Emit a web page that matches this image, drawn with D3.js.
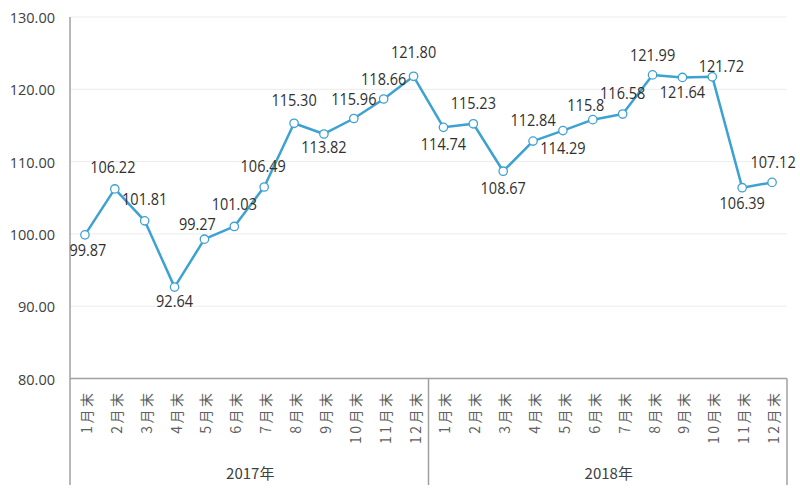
<!DOCTYPE html>
<html>
<head>
<meta charset="utf-8">
<script src="https://cdn.jsdelivr.net/npm/d3@7"></script>
<style>
  html, body { margin: 0; padding: 0; background: #fff; }
  svg { display: block; }
</style>
</head>
<body>
<svg id="chart" width="800" height="500"></svg>
<script>
// ---- data ----
const years = ["2017年", "2018年"];
const months = ["1月末","2月末","3月末","4月末","5月末","6月末","7月末","8月末","9月末","10月末","11月末","12月末"];
const values = [99.87, 106.22, 101.81, 92.64, 99.27, 101.03, 106.49, 115.30, 113.82, 115.96, 118.66, 121.80,
                114.74, 115.23, 108.67, 112.84, 114.29, 115.8, 116.58, 121.99, 121.64, 121.72, 106.39, 107.12];
const valueLabels = ["99.87","106.22","101.81","92.64","99.27","101.03","106.49","115.30","113.82","115.96","118.66","121.80",
                     "114.74","115.23","108.67","112.84","114.29","115.8","116.58","121.99","121.64","121.72","106.39","107.12"];
const yTicks = [80, 90, 100, 110, 120, 130];
// label placement (baseline offset from the point, horizontal nudge)
const labelDy = [21, -16, -16, 20, -9, -16, -15, -17, 19, -14, -14, -18,
                 23, -15, 23, -15, 23, -9, -15, -14, 21, -5, 21, -14];
const labelDx = [3, -2, 0, 0, -7, 0, -1, 0, 0, 0, 0, 0,
                 0, 0, 0, 0, 0, -7, 0, 0, 0, 9, 0, 1];

// ---- layout ----
const svg = d3.select("#chart");
const mLeft = 70, mRight = 787, mTop = 17, mBottom = 378.5, axisBottom = 485;

const cats = d3.range(years.length * months.length);
const x = d3.scaleBand().domain(cats).range([mLeft, mRight]).padding(0);
const cx = i => x(i) + x.bandwidth() / 2;
const y = d3.scaleLinear().domain([80, 130]).range([mBottom, mTop]);

// gridlines
svg.append("g").selectAll("line").data(yTicks.filter(t => t > 80)).join("line")
  .attr("x1", mLeft).attr("x2", mRight)
  .attr("y1", d => y(d)).attr("y2", d => y(d))
  .attr("stroke", "#ececec").attr("stroke-width", 1);

// y axis labels
svg.append("g").selectAll("text").data(yTicks).join("text")
  .attr("x", 55).attr("y", d => y(d) + 6)
  .attr("text-anchor", "end")
  .attr("font-family", "'Open Sans', sans-serif")
  .attr("font-size", 14.5)
  .attr("fill", "#404040")
  .text(d => d3.format(".2f")(d));

// axis lines
svg.append("line").attr("x1", mLeft).attr("x2", mLeft).attr("y1", mTop).attr("y2", axisBottom)
  .attr("stroke", "#a0a0a0").attr("stroke-width", 1.5);
svg.append("line").attr("x1", mLeft).attr("x2", mRight).attr("y1", mBottom).attr("y2", mBottom)
  .attr("stroke", "#a0a0a0").attr("stroke-width", 1.5);
// group separators
const seps = [mLeft + x.bandwidth() * months.length, mRight];
svg.append("g").selectAll("line").data(seps).join("line")
  .attr("x1", d => d).attr("x2", d => d).attr("y1", mBottom).attr("y2", axisBottom)
  .attr("stroke", "#a0a0a0").attr("stroke-width", 1.5);

// x labels (rotated)
svg.append("g").selectAll("text").data(cats).join("text")
  .attr("transform", i => `translate(${cx(i) + 7},${mBottom + 12}) rotate(-90)`)
  .attr("text-anchor", "end")
  .attr("font-family", "'Noto Sans CJK SC', sans-serif")
  .attr("font-size", 14)
  .attr("letter-spacing", 2.5)
  .attr("fill", "#606060")
  .text(i => months[i % months.length]);

// year labels
svg.append("g").selectAll("text").data(years).join("text")
  .attr("x", (d, gi) => (x(gi * months.length) + x(gi * months.length + months.length - 1) + x.bandwidth()) / 2 + 1)
  .attr("y", 479)
  .attr("text-anchor", "middle")
  .attr("font-family", "'Noto Sans CJK SC', sans-serif")
  .attr("font-size", 15)
  .attr("fill", "#404040")
  .text(d => d);

// line
const lineColor = "#3da2d2";
svg.append("path")
  .datum(values)
  .attr("fill", "none")
  .attr("stroke", lineColor)
  .attr("stroke-width", 2.5)
  .attr("stroke-linejoin", "round")
  .attr("d", d3.line().x((d, i) => cx(i)).y(d => y(d)));

// markers
svg.append("g").selectAll("circle").data(values).join("circle")
  .attr("cx", (d, i) => cx(i)).attr("cy", d => y(d)).attr("r", 4.2)
  .attr("fill", "#fff").attr("stroke", lineColor).attr("stroke-width", 1.3);

// data labels
svg.append("g").selectAll("text").data(values).join("text")
  .attr("transform", (d, i) => `translate(${cx(i) + labelDx[i]},${y(d) + labelDy[i]}) scale(1,1.12)`)
  .attr("text-anchor", "middle")
  .attr("font-family", "'Open Sans', sans-serif")
  .attr("font-size", 14.5)
  .attr("fill", "#303030")
  .text((d, i) => valueLabels[i]);
</script>
</body>
</html>
